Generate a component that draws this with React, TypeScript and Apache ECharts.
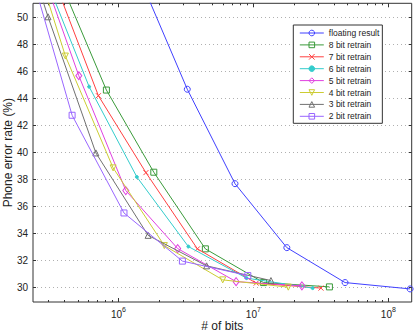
import React, { useEffect, useRef } from "react";
import * as echarts from "echarts";

// ---- axis ranges / ticks ----
const X_MIN = 2.33e5;
const X_MAX = 1.49e8;
const Y_MIN = 28.9;
const Y_MAX = 51.04;
const Y_TICKS = [30, 32, 34, 36, 38, 40, 42, 44, 46, 48, 50];
const X_MAJOR = [1e6, 1e7, 1e8];
const X_MINOR = [
  3e5, 4e5, 5e5, 6e5, 7e5, 8e5, 9e5,
  2e6, 3e6, 4e6, 5e6, 6e6, 7e6, 8e6, 9e6,
  2e7, 3e7, 4e7, 5e7, 6e7, 7e7, 8e7, 9e7,
];

// ---- data (# of bits, phone error rate %) ----
const floatBits = [1.53e6, 3.24e6, 7.31e6, 1.77e7, 4.78e7, 1.45e8];
const floatErr = [52.3, 44.67, 37.67, 32.93, 30.34, 29.87];
const bits8 = [3.85e5, 8.15e5, 1.83e6, 4.41e6, 1.19e7, 3.66e7];
const err8 = [52.3, 44.61, 38.52, 32.84, 30.34, 30.02];
const bits7 = [3.36e5, 7.11e5, 1.6e6, 3.85e6, 1.05e7, 3.17e7];
const err7 = [52.7, 44.19, 38.49, 32.84, 30.3, 29.93];
const bits6 = [2.87e5, 6.07e5, 1.37e6, 3.3e6, 8.9e6, 2.75e7];
const err6 = [53.0, 44.86, 38.17, 33.01, 30.67, 29.93];
const bits5 = [2.4e5, 5.09e5, 1.135e6, 2.75e6, 7.45e6, 2.29e7];
const err5 = [54.9, 45.67, 37.16, 32.86, 30.41, 30.1];
const bits4 = [1.91e5, 4.05e5, 9.14e5, 2.19e6, 5.93e6, 1.815e7];
const err4 = [57.5, 47.13, 38.84, 33.08, 30.54, 30.0];
const bits3 = [1.43e5, 3.01e5, 6.81e5, 1.66e6, 4.5e6, 1.35e7];
const err3 = [60.1, 50.04, 39.95, 33.84, 31.58, 30.49];
const bits2 = [2.03e5, 4.54e5, 1.1e6, 2.98e6, 9.1e6];
const err2 = [54.9, 42.74, 35.5, 31.93, 30.86];

const seriesNames = [
  "floating result",
  "8 bit retrain",
  "7 bit retrain",
  "6 bit retrain",
  "5 bit retrain",
  "4 bit retrain",
  "3 bit retrain",
  "2 bit retrain",
];
const seriesBits = [floatBits, bits8, bits7, bits6, bits5, bits4, bits3, bits2];
const seriesErr = [floatErr, err8, err7, err6, err5, err4, err3, err2];

// ---- styles ----
const COLORS = ["#4040ff", "#3a9a3a", "#ff4040", "#33cccc", "#e040e0", "#cccc33", "#707070", "#9966ff"];
const CROSS = "path://M0,0L10,10M10,0L0,10";
const MARKERS: { symbol: string; size: number | number[]; rotate?: number; filled?: boolean }[] = [
  { symbol: "circle", size: 6 },
  { symbol: "rect", size: 6 },
  { symbol: CROSS, size: 5, filled: true },
  { symbol: "circle", size: 3, filled: true },
  { symbol: "diamond", size: [6, 8] },
  { symbol: "triangle", size: 6, rotate: 180 },
  { symbol: "triangle", size: 6 },
  { symbol: "rect", size: 6 },
];

const AX = "#333333";
const FONT = "Liberation Sans, Arial, sans-serif";
const lg = Math.log10;

function xAxisDef(position: "top" | "bottom", values: number[], len: number, labels: boolean) {
  return {
    type: "value",
    position,
    min: lg(X_MIN),
    max: lg(X_MAX),
    axisLine: { show: false },
    axisTick: {
      show: true,
      inside: true,
      length: len,
      customValues: values.map(lg),
      lineStyle: { color: AX, width: 1 },
    },
    axisLabel: labels
      ? {
          show: true,
          customValues: values.map(lg),
          margin: 4,
          formatter: (v: number) => `{b|10}{s|${Math.round(v)}}`,
          rich: {
            b: { fontSize: 10, fontFamily: FONT, color: "#222", verticalAlign: "bottom", lineHeight: 13 },
            s: { fontSize: 7, fontFamily: FONT, color: "#222", verticalAlign: "top", lineHeight: 13 },
          },
        }
      : { show: false },
    splitLine: { show: false },
    ...(labels
      ? {
          name: "# of bits",
          nameLocation: "middle",
          nameGap: 18,
          nameMoveOverlap: false,
          nameTextStyle: { fontSize: 12, fontFamily: FONT, color: "#222" },
        }
      : {}),
  };
}

export default function App() {
  const ref = useRef<HTMLDivElement>(null);
  useEffect(() => {
    if (!ref.current) return;
    const chart = echarts.init(ref.current, undefined, { renderer: "svg" });

    const series = seriesNames.map((name, i) => {
      const m = MARKERS[i];
      const c = COLORS[i];
      return {
        name,
        type: "line",
        xAxisIndex: 0,
        yAxisIndex: 0,
        data: seriesBits[i].map((b, k) => [lg(b), seriesErr[i][k]]),
        symbol: m.symbol,
        symbolSize: m.size,
        symbolRotate: m.rotate || 0,
        showAllSymbol: true,
        clip: true,
        color: c,
        lineStyle: { color: c, width: 1 },
        itemStyle: {
          color: m.filled ? c : "rgba(255,255,255,0)",
          borderColor: c,
          borderWidth: 1,
        },
        emphasis: { disabled: true },
        z: 2 + i,
      };
    });

    const legendData = seriesNames.map((name, i) => ({
      name,
      itemStyle: {
        color: MARKERS[i].filled ? COLORS[i] : "rgba(255,255,255,0)",
        borderColor: COLORS[i],
        borderWidth: 1,
      },
      lineStyle: { color: COLORS[i], width: 1 },
    }));

    const option = {
      animation: false,
      backgroundColor: "#ffffff",
      grid: {
        left: 33,
        right: 3.3,
        top: 3.3,
        bottom: 31,
        containLabel: false,
        outerBoundsMode: "none",
        show: true,
        borderColor: AX,
        borderWidth: 1,
        backgroundColor: "transparent",
      },
      legend: {
        show: true,
        orient: "vertical",
        left: 293.3,
        top: 25,
        itemWidth: 24,
        itemHeight: 7,
        itemGap: 1.9,
        padding: [3, 3, 2, 6],
        backgroundColor: "#ffffff",
        borderColor: AX,
        borderWidth: 1,
        borderRadius: 0,
        selectedMode: false,
        textStyle: { fontSize: 8.5, fontFamily: FONT, color: "#222", lineHeight: 10 },
        data: legendData,
      },
      xAxis: [
        xAxisDef("bottom", X_MAJOR, 4, true),
        xAxisDef("bottom", X_MINOR, 2, false),
        xAxisDef("top", X_MAJOR, 4, false),
        xAxisDef("top", X_MINOR, 2, false),
      ],
      yAxis: [
        {
          type: "value",
          position: "left",
          min: Y_MIN,
          max: Y_MAX,
          axisLine: { show: false },
          axisTick: {
            show: true,
            inside: true,
            length: 3,
            customValues: Y_TICKS,
            lineStyle: { color: AX, width: 1 },
          },
          axisLabel: {
            show: true,
            customValues: Y_TICKS,
            margin: 5,
            fontSize: 10,
            fontFamily: FONT,
            color: "#222",
          },
          splitLine: {
            show: true,
            lineStyle: { color: "#b0b0b0", width: 1, type: [1, 3] },
          },
          name: "Phone error rate (%)",
          nameLocation: "middle",
          nameGap: 19,
          nameMoveOverlap: false,
          nameTextStyle: { fontSize: 12, fontFamily: FONT, color: "#222" },
        },
        {
          type: "value",
          position: "right",
          min: Y_MIN,
          max: Y_MAX,
          axisLine: { show: false },
          axisTick: {
            show: true,
            inside: true,
            length: 3,
            customValues: Y_TICKS,
            lineStyle: { color: AX, width: 1 },
          },
          axisLabel: { show: false },
          splitLine: { show: false },
        },
      ],
      series,
    };
    chart.setOption(option as any);
    return () => chart.dispose();
  }, []);

  return (
    <div
      ref={ref}
      style={{ position: "absolute", left: 0, top: 0, width: 415, height: 333, background: "#fff" }}
    />
  );
}
